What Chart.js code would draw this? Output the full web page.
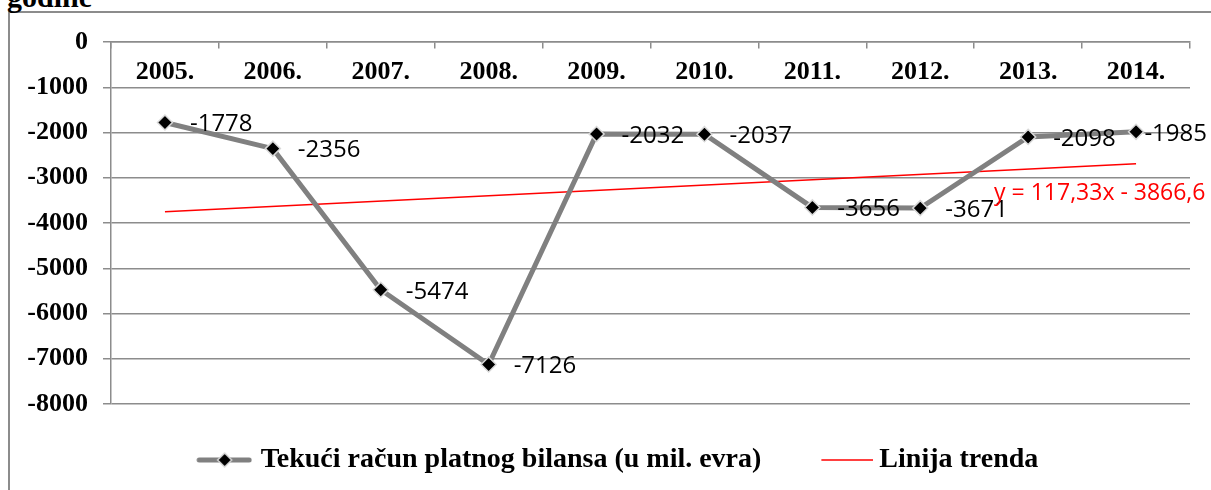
<!DOCTYPE html>
<html>
<head>
<meta charset="utf-8">
<script src="https://cdn.jsdelivr.net/npm/chart.js@4"></script>
<style>
  html, body { margin: 0; padding: 0; background: #fff; overflow: hidden; }
  #wrap { position: relative; width: 1211px; height: 490px; overflow: hidden; }
  #frame { position: absolute; left: 8px; top: 11px; width: 1300px; height: 600px;
           border-left: 2px solid #8c8c8c; border-top: 2px solid #8c8c8c; }
  #cut { position: absolute; left: 7px; top: -18px; font: bold 30px/30px "Liberation Serif", serif; color: #000; }
  canvas { position: absolute; left: 0; top: 0; }
</style>
</head>
<body>
<div id="wrap">
  <div id="frame"></div>
  <div id="cut">godine</div>
  <canvas id="chart" width="1211" height="490"></canvas>
</div>
<script>
const years = ['2005.', '2006.', '2007.', '2008.', '2009.', '2010.', '2011.', '2012.', '2013.', '2014.'];
const balance = [-1778, -2356, -5474, -7126, -2032, -2037, -3656, -3671, -2098, -1985];
// trend line: only the two ends, spanGaps draws the straight line between
const trend = [-3749, null, null, null, null, null, null, null, null, -2693];
const yTicks = [0, -1000, -2000, -3000, -4000, -5000, -6000, -7000, -8000];
const seriesName = 'Tekući račun platnog bilansa (u mil. evra)';
const trendName = 'Linija trenda';
const trendLabel = 'y = 117,33x - 3866,6';

const GRID = '#8c8c8c';
const axisFont = { family: '"Liberation Serif", "Times New Roman", serif', weight: 'bold', size: 26 };
const legendFont = { family: '"Liberation Serif", "Times New Roman", serif', weight: 'bold', size: 28 };

// legend symbols (drawn centred on the legend box)
function seriesSymbol() {
  const c = document.createElement('canvas');
  c.width = 106; c.height = 18;
  const g = c.getContext('2d');
  g.strokeStyle = '#808080'; g.lineWidth = 5; g.lineCap = 'round';
  g.beginPath(); g.moveTo(53, 9); g.lineTo(103, 9); g.stroke();
  g.fillStyle = '#000'; g.strokeStyle = '#d9d9d9'; g.lineWidth = 1.5;
  g.beginPath(); g.moveTo(78.5, 2); g.lineTo(85.5, 9); g.lineTo(78.5, 16); g.lineTo(71.5, 9); g.closePath();
  g.fill(); g.stroke();
  return c;
}
function trendSymbol() {
  const c = document.createElement('canvas');
  c.width = 111; c.height = 4;
  const g = c.getContext('2d');
  g.strokeStyle = '#ff0000'; g.lineWidth = 1.5;
  g.beginPath(); g.moveTo(59, 2); g.lineTo(111, 2); g.stroke();
  return c;
}
const symbols = [seriesSymbol(), trendSymbol()];

const valueLabels = {
  id: 'valueLabels',
  afterDatasetsDraw(chart) {
    const ctx = chart.ctx;
    ctx.save();
    ctx.textBaseline = 'middle';
    ctx.fillStyle = '#000';
    ctx.font = '24px "Open Sans", sans-serif';
    chart.getDatasetMeta(0).data.forEach(function(pt, i) {
      const txt = String(balance[i]);
      const w = ctx.measureText(txt).width;
      const x = Math.min(pt.x + 25, chart.width - 4 - w);
      ctx.fillText(txt, x, pt.y + 2);
    });
    const tpts = chart.getDatasetMeta(1).data;
    const last = tpts[tpts.length - 1];
    ctx.fillStyle = '#ff0000';
    ctx.font = '23px "Open Sans", sans-serif';
    ctx.fillText(trendLabel, last.x - 142, last.y + 30);
    ctx.restore();
  }
};

new Chart(document.getElementById('chart'), {
  type: 'line',
  data: {
    labels: years,
    datasets: [
      {
        label: seriesName,
        data: balance,
        borderColor: '#808080',
        borderWidth: 5,
        tension: 0,
        pointStyle: 'rectRot',
        pointRadius: 7.5,
        pointBackgroundColor: '#000',
        pointBorderColor: '#d9d9d9',
        pointBorderWidth: 1.5
      },
      {
        label: trendName,
        data: trend,
        borderColor: '#ff0000',
        borderWidth: 1.5,
        pointRadius: 0,
        spanGaps: true
      }
    ]
  },
  options: {
    responsive: false,
    animation: false,
    layout: { padding: { left: 0, right: 21, top: 42, bottom: 6 } },
    scales: {
      x: {
        type: 'category',
        position: { y: 0 },
        offset: true,
        grid: { offset: true, drawOnChartArea: false, drawTicks: true, tickLength: 6, color: GRID, lineWidth: 1.5 },
        border: { color: GRID, width: 1.5 },
        ticks: { font: axisFont, color: '#000', padding: 9, maxRotation: 0, autoSkip: false }
      },
      y: {
        position: 'left',
        min: -8000,
        max: 0,
        afterBuildTicks: function(s) { s.ticks = yTicks.map(function(v) { return { value: v }; }); },
        afterFit: function(s) { s.width = 111; },
        grid: { color: GRID, lineWidth: 1.5, tickLength: 8 },
        border: { color: GRID, width: 1.5 },
        ticks: { font: axisFont, color: '#000', padding: 15, callback: function(v) { return String(v); } }
      }
    },
    plugins: {
      tooltip: { enabled: false },
      legend: {
        position: 'bottom',
        title: { display: true, text: ' ', font: { size: 1 }, padding: { top: 31.8, bottom: 0 } },
        labels: {
          usePointStyle: true,
          pointStyleWidth: 95,
          padding: 9,
          color: '#000',
          font: legendFont,
          generateLabels: function(chart) {
            const items = Chart.defaults.plugins.legend.labels.generateLabels(chart);
            items.forEach(function(it, i) { it.pointStyle = symbols[i]; });
            return items;
          }
        }
      }
    }
  },
  plugins: [valueLabels]
});
</script>
</body>
</html>
